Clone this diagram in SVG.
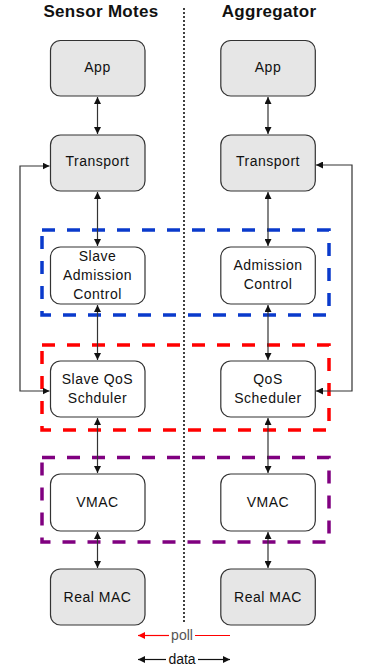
<svg xmlns="http://www.w3.org/2000/svg" width="367" height="668" viewBox="0 0 367 668">
<style>
.box{stroke:#333;stroke-width:1.2}
.g{fill:#e6e6e6}
.w{fill:#fff}
.t{font-family:"Liberation Sans",Arial,sans-serif;font-size:14px;letter-spacing:0.5px;fill:#111;text-anchor:middle}
.h{font-family:"Liberation Sans",Arial,sans-serif;font-size:17px;font-weight:bold;letter-spacing:0.3px;fill:#111;text-anchor:middle}
.ln{fill:none;stroke:#333;stroke-width:1.2}
.dash{fill:none;stroke-width:3.5;stroke-dasharray:13 12}
</style>
<defs>
<marker id="ah" viewBox="0 0 10 10" refX="10" refY="5" markerWidth="7" markerHeight="7" orient="auto-start-reverse" markerUnits="userSpaceOnUse">
<path d="M0,0 L10,5 L0,10 Z" fill="#111"/>
</marker>
<marker id="ar" viewBox="0 0 10 10" refX="10" refY="5" markerWidth="7" markerHeight="7" orient="auto-start-reverse" markerUnits="userSpaceOnUse">
<path d="M0,0 L10,5 L0,10 Z" fill="#f00"/>
</marker>
</defs>
<rect width="367" height="668" fill="#fff"/>
<g id="titles">
<text class="h" x="101" y="17">Sensor Motes</text>
<text class="h" x="269" y="17">Aggregator</text>
</g>
<line id="divider" x1="184" y1="8" x2="184" y2="622" stroke="#111" stroke-width="1.6" stroke-dasharray="2 2"/>
<g id="groups">
<rect id="grp-admission" class="dash" x="42" y="230" width="287" height="85" stroke="#0a3acc"/>
<rect id="grp-qos" class="dash" x="42" y="345" width="287" height="85" stroke="#f00"/>
<rect id="grp-vmac" class="dash" x="42" y="457.5" width="287" height="84.5" stroke="#800080"/>
</g>
<g id="connectors">
<line class="ln" x1="97.5" y1="97" x2="97.5" y2="134" marker-start="url(#ah)" marker-end="url(#ah)"/>
<line class="ln" x1="97.5" y1="192" x2="97.5" y2="246" marker-start="url(#ah)" marker-end="url(#ah)"/>
<line class="ln" x1="97.5" y1="305" x2="97.5" y2="360" marker-start="url(#ah)" marker-end="url(#ah)"/>
<line class="ln" x1="97.5" y1="418" x2="97.5" y2="473" marker-start="url(#ah)" marker-end="url(#ah)"/>
<line class="ln" x1="97.5" y1="532" x2="97.5" y2="568" marker-start="url(#ah)" marker-end="url(#ah)"/>
<line class="ln" x1="268" y1="97" x2="268" y2="134" marker-start="url(#ah)" marker-end="url(#ah)"/>
<line class="ln" x1="268" y1="192" x2="268" y2="246" marker-start="url(#ah)" marker-end="url(#ah)"/>
<line class="ln" x1="268" y1="305" x2="268" y2="360" marker-start="url(#ah)" marker-end="url(#ah)"/>
<line class="ln" x1="268" y1="418" x2="268" y2="473" marker-start="url(#ah)" marker-end="url(#ah)"/>
<line class="ln" x1="268" y1="532" x2="268" y2="568" marker-start="url(#ah)" marker-end="url(#ah)"/>
<path class="ln" d="M49.5,166 H20 V391 H49.5" marker-start="url(#ah)" marker-end="url(#ah)"/>
<path class="ln" d="M316,165 H352 V391 H316" marker-start="url(#ah)" marker-end="url(#ah)"/>
</g>
<g id="left-app"><rect class="box g" x="50.5" y="40.5" width="94.5" height="55.5" rx="10"/><text class="t" x="97.5" y="72">App</text></g>
<g id="left-transport"><rect class="box g" x="50.5" y="135" width="94.5" height="56" rx="10"/><text class="t" x="97.5" y="166">Transport</text></g>
<g id="left-admission"><rect class="box w" x="50.5" y="247" width="94.5" height="57" rx="10"/><text class="t" x="97.5" y="260.5">Slave</text><text class="t" x="97.5" y="279.5">Admission</text><text class="t" x="97.5" y="298.5">Control</text></g>
<g id="left-qos"><rect class="box w" x="50.5" y="361" width="94.5" height="56" rx="10"/><text class="t" x="97.5" y="384">Slave QoS</text><text class="t" x="97.5" y="403">Schduler</text></g>
<g id="left-vmac"><rect class="box w" x="50.5" y="474" width="94.5" height="57" rx="10"/><text class="t" x="97.5" y="506.5">VMAC</text></g>
<g id="left-realmac"><rect class="box g" x="50.5" y="569" width="94.5" height="56" rx="10"/><text class="t" x="97.5" y="602">Real MAC</text></g>
<g id="right-app"><rect class="box g" x="220.8" y="40.5" width="94.5" height="55.5" rx="10"/><text class="t" x="268" y="72">App</text></g>
<g id="right-transport"><rect class="box g" x="220.8" y="135" width="94.5" height="56" rx="10"/><text class="t" x="268" y="166">Transport</text></g>
<g id="right-admission"><rect class="box w" x="220.8" y="247" width="94.5" height="57" rx="10"/><text class="t" x="268" y="270">Admission</text><text class="t" x="268" y="289">Control</text></g>
<g id="right-qos"><rect class="box w" x="220.8" y="361" width="94.5" height="56" rx="10"/><text class="t" x="268" y="384">QoS</text><text class="t" x="268" y="403">Scheduler</text></g>
<g id="right-vmac"><rect class="box w" x="220.8" y="474" width="94.5" height="57" rx="10"/><text class="t" x="268" y="506.5">VMAC</text></g>
<g id="right-realmac"><rect class="box g" x="220.8" y="569" width="94.5" height="56" rx="10"/><text class="t" x="268" y="602">Real MAC</text></g>
<g id="legend">
<line x1="230" y1="635.5" x2="195" y2="635.5" stroke="#f00" stroke-width="1.2"/>
<line x1="169" y1="635.5" x2="138" y2="635.5" stroke="#f00" stroke-width="1.2" marker-end="url(#ar)"/>
<text class="t" x="182" y="640" style="fill:#555;letter-spacing:0">poll</text>
<line x1="166" y1="659.5" x2="138" y2="659.5" stroke="#111" stroke-width="1.2" marker-end="url(#ah)"/>
<line x1="198" y1="659.5" x2="230" y2="659.5" stroke="#111" stroke-width="1.2" marker-end="url(#ah)"/>
<text class="t" x="182" y="664" style="letter-spacing:0">data</text>
</g>
</svg>
